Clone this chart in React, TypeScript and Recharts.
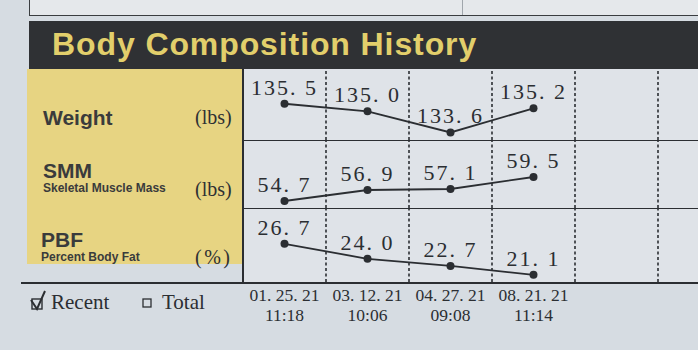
import React from 'react';
import { LineChart, Line, XAxis, YAxis, ReferenceLine, LabelList } from 'recharts';

const dates = ['01. 25. 21', '03. 12. 21', '04. 27. 21', '08. 21. 21'];
const times = ['11:18', '10:06', '09:08', '11:14'];
const weight = [135.5, 135.0, 133.6, 135.2];
const smm = [54.7, 56.9, 57.1, 59.5];
const pbf = [26.7, 24.0, 22.7, 21.1];
const slotCount = 6;

const data = dates.map((d, i) => ({
  x: i + 1,
  date: d,
  time: times[i],
  weight: weight[i],
  smm: smm[i],
  pbf: pbf[i],
}));
const tickValues = data.map((d) => d.x);
const boundaries = Array.from({ length: slotCount - 1 }, (_, i) => i + 1.5);

const ink = '#2b2e32';
const serif = '"Liberation Serif", "Times New Roman", serif';
const sans = '"Liberation Sans", Arial, Helvetica, sans-serif';
const CHART_W = 498;

const fmt = (v: any) => Number(v).toFixed(1).replace('.', '. ');

function Row({ dataKey, domain, top, height }: { dataKey: string; domain: [number, number]; top: number; height: number }) {
  return (
    <div style={{ position: 'absolute', left: 243, top, width: CHART_W, height }}>
      <LineChart width={CHART_W} height={height} data={data} margin={{ top: 0, right: 0, bottom: 0, left: 0 }}>
        <XAxis type="number" dataKey="x" domain={[0.5, slotCount + 0.5]} hide />
        <YAxis type="number" domain={domain} hide />
        {boundaries.map((b) => (
          <ReferenceLine key={b} x={b} stroke={ink} strokeWidth={1.6} strokeDasharray="3 2.5" />
        ))}
        <Line
          dataKey={dataKey}
          stroke={ink}
          strokeWidth={1.8}
          dot={{ r: 4, fill: ink, stroke: 'none' }}
          isAnimationActive={false}
        >
          <LabelList
            dataKey={dataKey}
            position="top"
            offset={9}
            formatter={fmt}
            fill={ink}
            fontSize={22}
            fontFamily={serif}
            style={{ letterSpacing: 2 }}
          />
        </Line>
      </LineChart>
    </div>
  );
}

const DateTick = (props: any) => {
  const { x, y, payload } = props;
  const i = Number(payload.value) - 1;
  return (
    <g>
      <text x={x} y={y + 19} textAnchor="middle" fontFamily={serif} fontSize={17.5} fill={ink}>
        {dates[i]}
      </text>
      <text x={x} y={y + 39} textAnchor="middle" fontFamily={serif} fontSize={17.5} fill={ink}>
        {times[i]}
      </text>
    </g>
  );
};

export default function App() {
  return (
    <div
      style={{
        position: 'absolute',
        left: 0,
        top: 0,
        width: 698,
        height: 350,
        overflow: 'hidden',
        background: '#d6dce2',
      }}
    >
      {/* top box of previous section */}
      <div
        style={{
          position: 'absolute',
          left: 29,
          top: -2,
          width: 690,
          height: 17,
          background: '#e5e8eb',
          borderLeft: '1.5px solid #3a3d40',
          borderBottom: '1.5px solid #3a3d40',
        }}
      />
      <div style={{ position: 'absolute', left: 462, top: 0, width: 1, height: 15, background: '#a0a6ac' }} />
      {/* header bar */}
      <div style={{ position: 'absolute', left: 29, top: 21, width: 690, height: 48, background: '#2f3134' }} />
      {/* yellow panel */}
      <div style={{ position: 'absolute', left: 27, top: 69, width: 216, height: 195, background: '#e7d482' }} />
      {/* chart region */}
      <div style={{ position: 'absolute', left: 243, top: 69, width: 460, height: 213, background: '#dfe3e8' }} />

      <Row dataKey="weight" domain={[133.1, 137.8]} top={69} height={71} />
      <Row dataKey="smm" domain={[53.3, 66.7]} top={141} height={67} />
      <Row dataKey="pbf" domain={[19.8, 33.0]} top={209} height={73} />

      {/* date axis area */}
      <div style={{ position: 'absolute', left: 243, top: 282, width: CHART_W, height: 42 }}>
        <LineChart width={CHART_W} height={42} data={data} margin={{ top: 0, right: 0, bottom: 0, left: 0 }}>
          <XAxis
            type="number"
            dataKey="x"
            domain={[0.5, slotCount + 0.5]}
            ticks={tickValues}
            orientation="top"
            mirror
            axisLine={false}
            tickLine={false}
            tickSize={0}
            tickMargin={0}
            tick={<DateTick />}
          />
          <YAxis type="number" domain={[0, 1]} hide />
          {boundaries.map((b) => (
            <ReferenceLine key={b} x={b} stroke={ink} strokeWidth={1.6} strokeDasharray="3 2.5" />
          ))}
        </LineChart>
      </div>

      {/* grid lines */}
      <div style={{ position: 'absolute', left: 242, top: 69, width: 2, height: 214, background: ink }} />
      <div style={{ position: 'absolute', left: 243, top: 139.5, width: 460, height: 1.6, background: ink }} />
      <div style={{ position: 'absolute', left: 243, top: 207.5, width: 460, height: 1.6, background: ink }} />
      <div style={{ position: 'absolute', left: 21, top: 281.5, width: 690, height: 2, background: ink }} />

      {/* static text overlay */}
      <svg width={698} height={350} style={{ position: 'absolute', left: 0, top: 0, pointerEvents: 'none' }}>
        <text x={52} y={55} fontFamily={sans} fontWeight={700} fontSize={32} fill="#e2cf6b" style={{ letterSpacing: 0.9 }}>
          Body Composition History
        </text>

        <text x={43} y={125} fontFamily={sans} fontWeight={700} fontSize={21} fill="#3a3b3c">Weight</text>
        <text x={195} y={124} fontFamily={serif} fontSize={20} fill="#2e3033">(lbs)</text>

        <text x={43} y={178} fontFamily={sans} fontWeight={700} fontSize={21} fill="#3a3b3c">SMM</text>
        <text x={43} y={192} fontFamily={sans} fontWeight={700} fontSize={12} fill="#3a3b3c">Skeletal Muscle Mass</text>
        <text x={195} y={196} fontFamily={serif} fontSize={20} fill="#2e3033">(lbs)</text>

        <text x={41} y={247} fontFamily={sans} fontWeight={700} fontSize={21} fill="#3a3b3c">PBF</text>
        <text x={41} y={261} fontFamily={sans} fontWeight={700} fontSize={12} fill="#3a3b3c">Percent Body Fat</text>
        <text x={195} y={264} fontFamily={serif} fontSize={20} fill="#2e3033" style={{ letterSpacing: 2.5 }}>(%)</text>

        {/* Recent / Total */}
        <rect x={32} y={299} width={10} height={10} fill="none" stroke={ink} strokeWidth={1.4} />
        <path d="M31 300 L37 309 L45 291" fill="none" stroke={ink} strokeWidth={2} />
        <text x={51} y={309} fontFamily={serif} fontSize={21} fill={ink}>Recent</text>
        <rect x={143} y={299} width={8} height={8} fill="none" stroke={ink} strokeWidth={1.3} />
        <text x={162} y={309} fontFamily={serif} fontSize={21} fill={ink}>Total</text>
      </svg>
    </div>
  );
}
